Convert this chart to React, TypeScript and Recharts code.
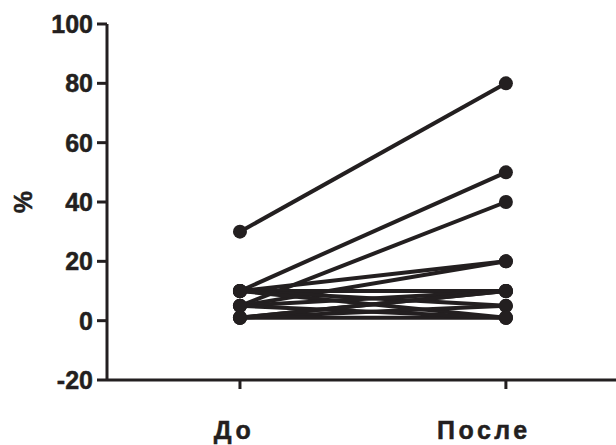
import { LineChart, Line, XAxis, YAxis } from "recharts"

const categories = ["До", "После"]
const labelShift = [-6, -22]
const before = [30, 10, 5, 10, 5, 10, 10, 10, 5, 1, 1, 1, 5, 1]
const after = [80, 50, 40, 20, 20, 10, 5, 1, 10, 10, 5, 1, 1, 10]
const yTicks = [-20, 0, 20, 40, 60, 80, 100]

const ink = "#231f20"
const font = "'Liberation Sans', Arial, sans-serif"

const pairs = before.map((b, i) => [
  { x: 0, y: b },
  { x: 1, y: after[i] },
])

function PercentLabel(props: any) {
  const { viewBox } = props
  const x = viewBox.x + 23
  const y = viewBox.y + viewBox.height / 2
  return (
    <text
      x={x}
      y={y}
      transform={`rotate(-90, ${x}, ${y})`}
      textAnchor="middle"
      dominantBaseline="central"
      fill={ink}
      stroke={ink}
      strokeWidth={0.5}
      fontSize={25}
      fontWeight="bold"
      fontFamily={font}
    >
      %
    </text>
  )
}

function CategoryTick(props: any) {
  const { x, y, payload } = props
  const i = payload.value as number
  return (
    <text
      x={x + labelShift[i]}
      y={y}
      dy="0.71em"
      textAnchor="middle"
      fill={ink}
      stroke={ink}
      strokeWidth={0.5}
      fontSize={25}
      fontWeight="bold"
      letterSpacing={3.5}
      fontFamily={font}
    >
      {categories[i]}
    </text>
  )
}

export default function App() {
  return (
    <div style={{ position: "absolute", left: 0, top: 0, background: "#fff" }}>
      <LineChart
        width={616}
        height={445}
        margin={{ top: 24, right: 0, bottom: 0, left: 0 }}
      >
        <XAxis
          type="number"
          dataKey="x"
          domain={[-0.5, 1.414]}
          ticks={[0, 1]}
          allowDataOverflow
          height={65}
          stroke={ink}
          strokeWidth={3}
          tickSize={9}
          tickMargin={32}
          tick={<CategoryTick />}
        />
        <YAxis
          type="number"
          domain={[-20, 100]}
          ticks={yTicks}
          width={107}
          stroke={ink}
          strokeWidth={3}
          tickSize={10}
          tickMargin={4}
          tick={{
            fill: ink,
            stroke: ink,
            strokeWidth: 0.5,
            fontSize: 25,
            fontWeight: "bold",
            fontFamily: font,
          }}
          label={{ content: <PercentLabel /> }}
        />
        {pairs.map((d, i) => (
          <Line
            key={i}
            data={d}
            dataKey="y"
            type="linear"
            stroke={ink}
            strokeWidth={4}
            dot={{ r: 7, fill: ink, stroke: ink, strokeWidth: 0 }}
            isAnimationActive={false}
          />
        ))}
      </LineChart>
    </div>
  )
}
